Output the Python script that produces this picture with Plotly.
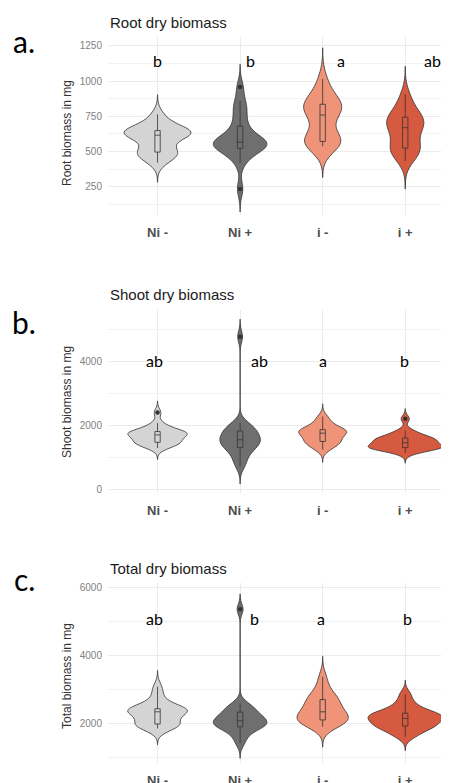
import numpy as np
import plotly.graph_objects as go

# ---------------- data ----------------
groups = ["Ni -", "Ni +", "i -", "i +"]
fill_colors = ["#d4d4d4", "#6f6f6f", "#ef9478", "#d65a40"]

root_ni_minus = [421, 450, 478, 488, 492, 500, 530, 580, 605, 612, 620, 628, 635, 640, 645, 652, 660, 680, 720, 764]
root_ni_plus = [234, 419, 470, 505, 520, 525, 540, 550, 558, 562, 570, 578, 590, 620, 660, 700, 760, 810, 859, 957]
root_i_minus = [538, 548, 560, 565, 568, 575, 590, 620, 700, 750, 768, 790, 810, 825, 832, 838, 860, 890, 950, 1014]
root_i_plus = [431, 470, 495, 510, 518, 530, 560, 600, 640, 660, 678, 690, 705, 720, 738, 750, 770, 800, 850, 907]

shoot_ni_minus = [1294, 1350, 1420, 1450, 1465, 1480, 1540, 1600, 1650, 1690, 1720, 1740, 1760, 1780, 1800, 1820, 1870, 1950, 2075, 2406]
shoot_ni_plus = [720, 880, 1040, 1160, 1280, 1330, 1380, 1420, 1480, 1530, 1575, 1620, 1680, 1740, 1800, 1860, 1920, 2000, 2075, 4781]
shoot_i_minus = [1241, 1320, 1400, 1450, 1490, 1510, 1560, 1620, 1680, 1740, 1780, 1800, 1820, 1840, 1860, 1880, 1950, 2050, 2150, 2281]
shoot_i_plus = [1138, 1220, 1270, 1290, 1300, 1310, 1330, 1350, 1370, 1420, 1500, 1520, 1540, 1560, 1590, 1620, 1680, 1750, 1844, 2209]

total_ni_minus = [1852, 1900, 1930, 1950, 1960, 2000, 2100, 2200, 2280, 2320, 2360, 2380, 2400, 2410, 2420, 2440, 2500, 2650, 2850, 3080]
total_ni_plus = [1420, 1600, 1750, 1850, 1880, 1910, 1950, 1990, 2030, 2060, 2090, 2130, 2180, 2230, 2300, 2360, 2420, 2500, 2590, 5363]
total_i_minus = [1900, 1950, 2000, 2050, 2090, 2110, 2150, 2190, 2250, 2320, 2360, 2420, 2500, 2600, 2680, 2720, 2800, 2900, 3100, 3375]
total_i_plus = [1605, 1700, 1800, 1880, 1910, 1930, 1980, 2030, 2080, 2120, 2170, 2200, 2230, 2260, 2290, 2310, 2400, 2500, 2637, 2864]

letters_root = ["b", "b", "a", "ab"]
letters_shoot = ["ab", "ab", "a", "b"]
letters_total = ["ab", "b", "a", "b"]

# the page body has an 8px margin: the figure fills the rest of the 449x783 window
OFF = 8
W, H = 449 - OFF, 783 - OFF


def px(p):
    """window pixel column -> paper x"""
    return (p - OFF) / W


def py(p):
    """window pixel row -> paper y"""
    return 1 - (p - OFF) / H


def bw_nrd0(v):
    v = np.asarray(v, float)
    sd = np.std(v, ddof=1)
    iqr = np.percentile(v, 75) - np.percentile(v, 25)
    lo = min(sd, iqr / 1.34)
    return 0.9 * lo * len(v) ** -0.2


panels = [
    dict(title="Root dry biomass", ytitle="Root biomass in mg", label="a.",
         data=[root_ni_minus, root_ni_plus, root_i_minus, root_i_plus],
         letters=letters_root, letter_dx=[0.0, 0.13, 0.22, 0.33], letter_y=1146,
         widths=[0.81, 0.65, 0.46, 0.45], yrange=[50, 1312], dtick=250, minor=125,
         top=37, bottom=215, title_y=22.5, ytitle_y=133, label_y=40.5),
    dict(title="Shoot dry biomass", ytitle="Shoot biomass in mg", label="b.",
         data=[shoot_ni_minus, shoot_ni_plus, shoot_i_minus, shoot_i_plus],
         letters=letters_shoot, letter_dx=[-0.04, 0.23, 0.0, -0.01], letter_y=4038,
         widths=[0.72, 0.49, 0.58, 0.90], yrange=[-116, 5620], dtick=2000, minor=1000,
         top=310, bottom=493, title_y=294.8, ytitle_y=402, label_y=321.5),
    dict(title="Total dry biomass", ytitle="Total biomass in mg", label="c.",
         data=[total_ni_minus, total_ni_plus, total_i_minus, total_i_plus],
         letters=letters_total, letter_dx=[-0.04, 0.17, -0.02, 0.03], letter_y=5083,
         widths=[0.72, 0.65, 0.62, 0.90], yrange=[830, 6140], dtick=2000, minor=1000,
         top=583, bottom=763, title_y=568.8, ytitle_y=676, label_y=578.5),
]

fig = go.Figure()
annotations = []
layout_axes = {}
x_left = px(108)

for pi, p in enumerate(panels):
    sfx = "" if pi == 0 else str(pi + 1)
    xa, ya = "x" + sfx, "y" + sfx
    for gi, g in enumerate(groups):
        vals = np.asarray(p["data"][gi], float)
        bw = bw_nrd0(vals)
        fig.add_trace(go.Violin(
            x=[g] * len(vals), y=vals, xaxis=xa, yaxis=ya, name=g,
            fillcolor=fill_colors[gi], line=dict(color="#333333", width=0.8),
            bandwidth=bw, spanmode="manual", span=[vals.min() - 3 * bw, vals.max() + 3 * bw],
            width=p["widths"][gi], scalemode="width", points=False,
            box_visible=False, meanline_visible=False, opacity=1, hoverinfo="skip"))
        fig.add_trace(go.Box(
            x=[g] * len(vals), y=vals, xaxis=xa, yaxis=ya, name=g,
            width=0.065, fillcolor="rgba(0,0,0,0)", line=dict(color="#333333", width=0.8),
            boxpoints="outliers", jitter=0, pointpos=0, whiskerwidth=0,
            marker=dict(color="#333333", size=4.5, line=dict(width=0)), hoverinfo="skip"))
        annotations.append(dict(
            x=gi + p["letter_dx"][gi], y=p["letter_y"], xref=xa, yref=ya,
            text=p["letters"][gi], showarrow=False, xanchor="center", yanchor="middle",
            font=dict(family="Lato", size=16, color="#000000")))

    layout_axes["xaxis" + sfx] = dict(
        domain=[x_left, 1], anchor=ya, range=[-0.6, 3.53], type="category",
        categoryorder="array", categoryarray=groups, automargin=False,
        showgrid=True, gridcolor="#ebebeb", gridwidth=1, zeroline=False, showline=False,
        ticks="", ticklabelstandoff=8,
        tickfont=dict(family="Liberation Sans", size=13, color="#4d4d4d", weight="bold"))
    layout_axes["yaxis" + sfx] = dict(
        domain=[py(p["bottom"]), py(p["top"])], anchor=xa, range=p["yrange"], automargin=False,
        tick0=0, dtick=p["dtick"], showgrid=True, gridcolor="#ebebeb", gridwidth=1,
        minor=dict(tick0=0, dtick=p["minor"], showgrid=True, gridcolor="#f2f2f2", gridwidth=0.7),
        zeroline=False, showline=False, ticks="", ticklabelstandoff=5,
        tickfont=dict(family="Liberation Sans", size=10, color="#7f7f7f"))

    annotations.append(dict(
        x=x_left, y=py(p["title_y"]), xref="paper", yref="paper", text=p["title"],
        showarrow=False, xanchor="left", yanchor="middle",
        font=dict(family="Liberation Sans", size=15, color="#1a1a1a")))
    annotations.append(dict(
        x=px(67), y=py(p["ytitle_y"]), xref="paper", yref="paper", text=p["ytitle"],
        textangle=-90, showarrow=False, xanchor="center", yanchor="middle",
        font=dict(family="Liberation Sans", size=12, color="#333333")))
    annotations.append(dict(
        x=px(24), y=py(p["label_y"]), xref="paper", yref="paper", text=p["label"],
        showarrow=False, xanchor="center", yanchor="middle",
        font=dict(family="Lato", size=30, color="#000000")))

fig.update_layout(
    width=W, height=H, margin=dict(l=0, r=0, t=0, b=0, autoexpand=False),
    paper_bgcolor="white", plot_bgcolor="white", showlegend=False,
    violinmode="overlay", boxmode="overlay",
    annotations=annotations, **layout_axes)

fig.write_html("out.html")
